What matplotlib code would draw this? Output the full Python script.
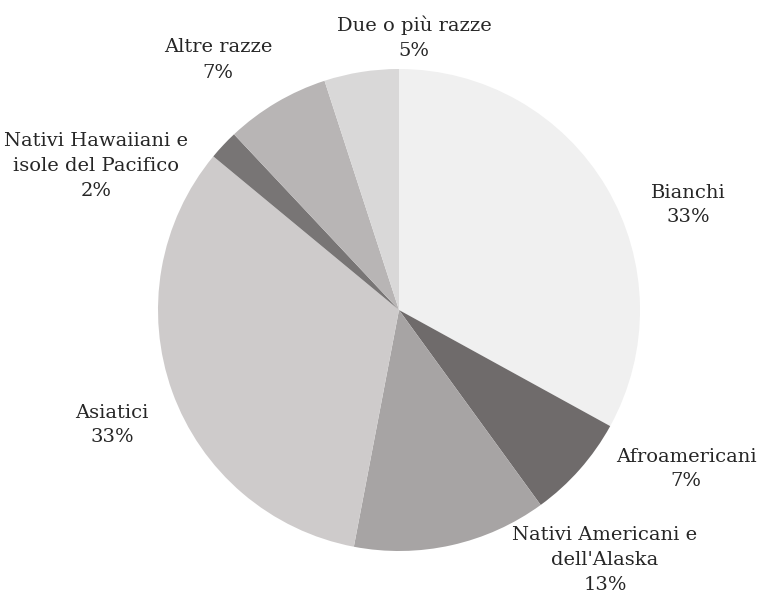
import matplotlib.pyplot as plt

# Composizione per razza
categorie = ["Bianchi", "Afroamericani", "Nativi Americani e\ndell'Alaska",
             "Asiatici", "Nativi Hawaiiani e\nisole del Pacifico",
             "Altre razze", "Due o più razze"]
percentuali = [33, 7, 13, 33, 2, 7, 5]
colori = ["#f0f0f0", "#6f6b6b", "#a7a4a4", "#cecbcb", "#787575", "#b8b5b5", "#d9d8d8"]

# posizioni delle etichette (pixel, origine in alto a sinistra)
pos_etichette = [(688, 205), (686, 469), (605, 560), (112, 425),
                 (96, 166), (218, 60), (414, 38)]

W, H = 763, 598
fig = plt.figure(figsize=(W / 100, H / 100), dpi=100)
ax = fig.add_axes([0, 0, 1, 1])

ax.pie(percentuali, colors=colori, startangle=90, counterclock=False,
       center=(399, H - 310), radius=241, frame=True,
       wedgeprops=dict(linewidth=0))
ax.set_xlim(0, W)
ax.set_ylim(0, H)
ax.set_aspect("equal")
ax.axis("off")

for nome, val, (x, y) in zip(categorie, percentuali, pos_etichette):
    ax.text(x, H - y, f"{nome}\n{val}%", ha="center", va="center",
            fontsize=14, family="DejaVu Serif", color="#262626",
            linespacing=1.5)

fig.savefig("out.png", dpi=100)
